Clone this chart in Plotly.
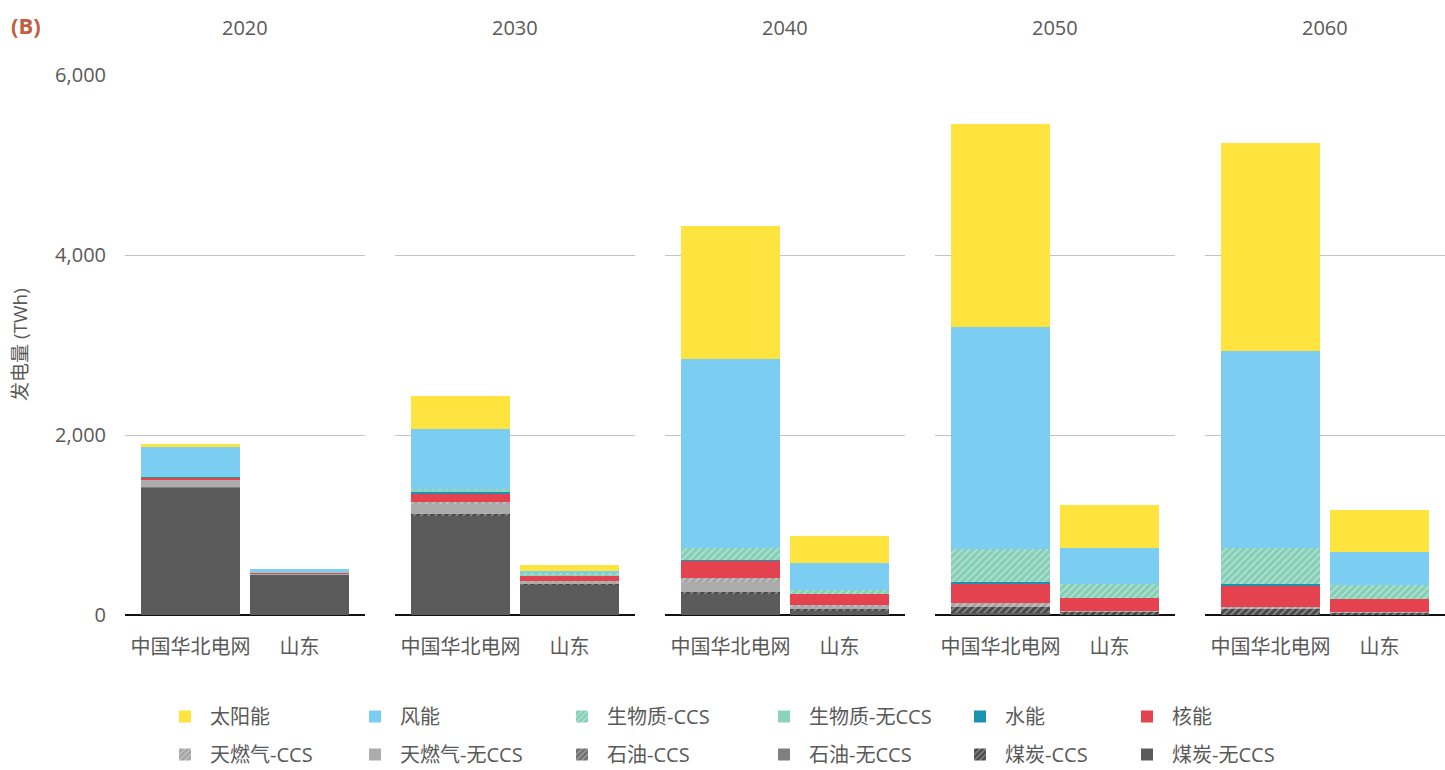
import plotly.graph_objects as go

years = ["2020", "2030", "2040", "2050", "2060"]
regions = ["中国华北电网", "山东"]

# Generation in TWh, ordered [2020 华北, 2020 山东, 2030 华北, 2030 山东, ..., 2060 山东]
coal_no_ccs = [1420, 450, 1105, 335, 235, 45, 20, 0, 0, 0]
coal_ccs = [0, 0, 15, 10, 25, 18, 70, 40, 70, 30]
oil_no_ccs = [5, 0, 0, 0, 0, 0, 0, 0, 0, 0]
oil_ccs = [0, 0, 0, 0, 0, 0, 0, 0, 0, 0]
gas_no_ccs = [85, 12, 120, 25, 110, 30, 0, 0, 0, 0]
gas_ccs = [0, 0, 12, 4, 37, 18, 40, 8, 23, 7]
nuclear = [20, 15, 96, 67, 193, 122, 222, 145, 233, 141]
hydro = [5, 0, 18, 0, 15, 0, 15, 0, 15, 5]
bio_no_ccs = [10, 5, 25, 12, 0, 0, 0, 0, 0, 0]
bio_ccs = [0, 0, 12, 10, 126, 45, 366, 151, 400, 147]
wind = [325, 30, 664, 26, 2103, 300, 2467, 404, 2192, 366]
solar = [30, 0, 366, 70, 1478, 300, 2256, 474, 2311, 471]

y_ticks = [0, 2000, 4000, 6000]

# (name, values, colour, is_ccs, legend id, legend row) in stacking order, bottom first
series = [
    ("煤炭-无CCS", coal_no_ccs, "#5b5b5b", False, "legend6", 2),
    ("煤炭-CCS", coal_ccs, "#4a4a4a", True, "legend5", 2),
    ("石油-无CCS", oil_no_ccs, "#808080", False, "legend4", 2),
    ("石油-CCS", oil_ccs, "#6e6e6e", True, "legend3", 2),
    ("天燃气-无CCS", gas_no_ccs, "#acacac", False, "legend2", 2),
    ("天燃气-CCS", gas_ccs, "#a4a4a4", True, "legend", 2),
    ("核能", nuclear, "#e3424e", False, "legend6", 1),
    ("水能", hydro, "#1b93b0", False, "legend5", 1),
    ("生物质-无CCS", bio_no_ccs, "#8dd2bd", False, "legend4", 1),
    ("生物质-CCS", bio_ccs, "#86cfb7", True, "legend3", 1),
    ("风能", wind, "#7bcef1", False, "legend2", 1),
    ("太阳能", solar, "#ffe33f", False, "legend", 1),
]

TEXT = "#595959"
FONT = "Open Sans, Noto Sans CJK SC, sans-serif"

W, H = 1445, 770
ML, MR, MT, MB = 125, 0, 75, 155
PW = W - ML - MR
PH = H - MT - MB
PANEL_W, PANEL_STEP = 240, 270

fig = go.Figure()

for i, year in enumerate(years):
    sfx = "" if i == 0 else str(i + 1)
    for name, vals, color, ccs, leg, rank in series:
        pattern = None
        if ccs:
            pattern = dict(shape="/", fillmode="overlay", fgcolor="#ffffff",
                           fgopacity=0.4, size=5, solidity=0.3)
        fig.add_trace(go.Bar(
            x=regions,
            y=vals[2 * i:2 * i + 2],
            name=name,
            legendgroup=name,
            legendrank=rank,
            legend=leg,
            showlegend=(i == 0),
            marker=dict(color=color, line=dict(width=0), pattern=pattern),
            xaxis="x" + sfx,
            yaxis="y" + sfx,
            hovertemplate="%{x}<br>" + name + ": %{y:,} TWh<extra>" + year + "</extra>",
        ))

layout = dict(
    width=W, height=H,
    margin=dict(l=ML, r=MR, t=MT, b=MB, autoexpand=False),
    barmode="stack",
    bargap=0.092,
    plot_bgcolor="white",
    paper_bgcolor="white",
    font=dict(family=FONT, color=TEXT, size=20),
    annotations=[],
)

for i, year in enumerate(years):
    sfx = "" if i == 0 else str(i + 1)
    x0 = i * PANEL_STEP / PW
    x1 = (i * PANEL_STEP + PANEL_W) / PW
    layout["xaxis" + sfx] = dict(
        domain=[x0, x1], anchor="y" + sfx, type="category",
        range=[-0.6, 1.6], showgrid=False, showline=False, zeroline=False,
        ticks="", tickfont=dict(size=20, color=TEXT), ticklabelstandoff=18,
        fixedrange=True, automargin=False,
    )
    layout["yaxis" + sfx] = dict(
        anchor="x" + sfx, range=[0, 6000], tickvals=y_ticks,
        tickformat=",", showticklabels=(i == 0),
        tickfont=dict(size=20, color=TEXT), ticklabelstandoff=18,
        showgrid=True, gridcolor="#c4c4c4", gridwidth=1.2,
        zeroline=True, zerolinecolor="#111111", zerolinewidth=1.6,
        showline=False, ticks="", automargin=False,
        matches=None if i == 0 else "y",
    )
    layout["annotations"].append(dict(
        text=year, xref="paper", yref="paper",
        x=(x0 + x1) / 2, y=(MT + PH - 27) / PH,
        xanchor="center", yanchor="middle", showarrow=False,
        font=dict(size=20, color=TEXT),
    ))

layout["annotations"].append(dict(
    text="<b>(B)</b>", xref="paper", yref="paper",
    x=(9 - ML) / PW, y=(MT + PH - 25) / PH,
    xanchor="left", yanchor="middle", showarrow=False,
    font=dict(size=22, color="#c0603f"),
))
layout["annotations"].append(dict(
    text="发电量 (TWh)", xref="paper", yref="paper",
    x=(20 - ML) / PW, y=(MT + PH - 345) / PH,
    xanchor="center", yanchor="middle", showarrow=False, textangle=-90,
    font=dict(size=19, color=TEXT),
))

# six two-row legend columns
col_left = [160, 350, 557, 759, 955, 1122]
legend_ids = ["legend", "legend2", "legend3", "legend4", "legend5", "legend6"]
for lid, px in zip(legend_ids, col_left):
    layout[lid] = dict(
        xref="container", yref="container",
        x=px / W, xanchor="left",
        y=1 - 697 / H, yanchor="top",
        orientation="v", traceorder="grouped", tracegroupgap=9,
        itemwidth=40,
        font=dict(size=20, color=TEXT), bgcolor="rgba(0,0,0,0)",
    )

fig.update_layout(**layout)
fig.write_html("out.html")
